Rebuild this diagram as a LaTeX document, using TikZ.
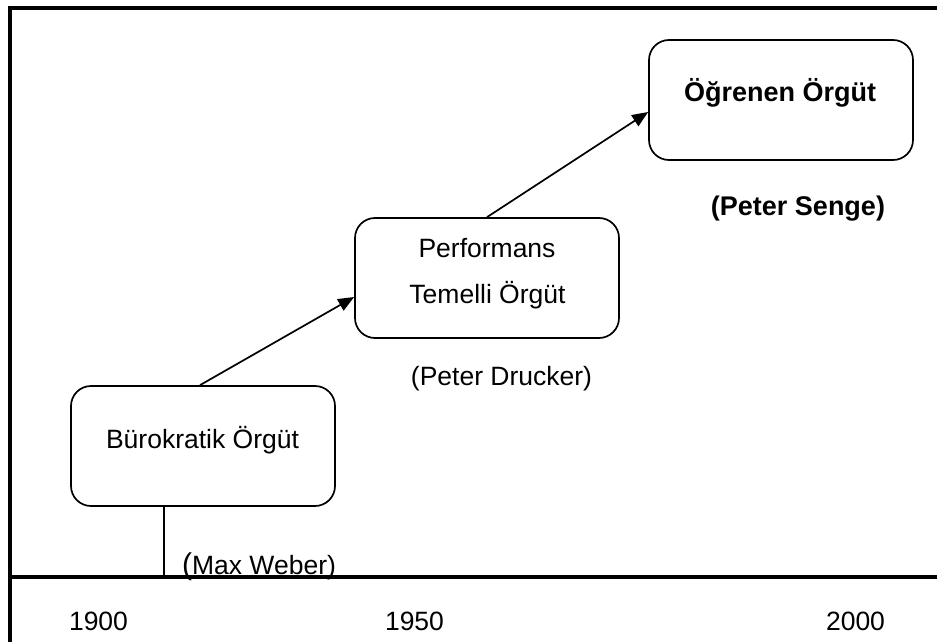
\documentclass[tikz,border=0pt]{standalone}
\usepackage{fontspec}
\setmainfont{Liberation Sans}
\usetikzlibrary{arrows.meta}
\begin{document}
\begin{tikzpicture}[x=1pt,y=-1pt,
  stagebox/.style={draw, line width=1.7pt, rounded corners=20pt, minimum width=264pt, minimum height=120pt, inner sep=0pt},
  txt/.style={anchor=base, inner sep=0pt, font=\fontsize{26.5}{30}\selectfont},
  boldtxt/.style={txt, font=\fontsize{27}{30}\selectfont\bfseries},
  flow/.style={line width=1.7pt, -{Triangle[length=16pt, width=13pt]}},
  frame/.style={line width=4pt}
]
\useasboundingbox (0,0) rectangle (937,642);

% outer frame and time axis
\draw[frame] (10,642) -- (10,8) -- (937,8);
\coordinate (axisL) at (10,577);
\coordinate (axisR) at (937,577);
\draw[frame] (axisL) -- (axisR);

% stages
\node[stagebox] (b1) at (203,446) {};
\node[stagebox] (b2) at (487,278) {};
\node[stagebox] (b3) at (781,100) {};

\node[txt] (t1) at (202.5,448) {Bürokratik Örgüt};
\node[txt] (t2a) at (487,257) {Performans};
\node[txt] (t2b) at (487.5,303) {Temelli Örgüt};
\node[boldtxt] (t3) at (780,101) {Öğrenen Örgüt};

% authors
\node[txt] (weber) at (259,574) {{\fontsize{30}{30}\selectfont(}Max Weber)};
\node[txt] (drucker) at (501.5,385) {(Peter Drucker)};
\node[boldtxt] (senge) at (798,215) {(Peter Senge)};

% years
\node[txt] (y1900) at (98.5,630) {1900};
\node[txt] (y1950) at (414.5,630) {1950};
\node[txt] (y2000) at (855.5,630) {2000};

% tick from the first stage down to the axis
\coordinate (tick) at (164,577);
\draw[line width=1.2pt] (b1.south -| tick) -- (tick);

% progression arrows
\draw[flow] ([xshift=-3pt]b1.north) -- (b2.west |- 0,297);
\draw[flow] (b2.north) -- (b3.west |- 0,112);
\end{tikzpicture}
\end{document}
